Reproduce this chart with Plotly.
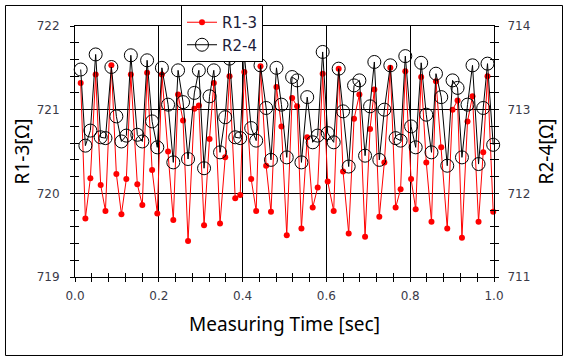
import plotly.graph_objects as go

# time [sec]
t = [0.0136,0.0248,0.0367,0.0493,0.0613,0.0727,0.0868,0.0987,0.1108,0.1225,
     0.1333,0.1487,0.1607,0.1721,0.1840,0.1964,0.2074,0.2222,0.2346,0.2460,
     0.2579,0.2698,0.2849,0.2956,0.3080,0.3211,0.3313,0.3461,0.3585,0.3688,
     0.3824,0.3943,0.4041,0.4205,0.4324,0.4427,0.4562,0.4677,0.4808,0.4927,
     0.5054,0.5182,0.5301,0.5404,0.5542,0.5673,0.5792,0.5911,0.6031,0.6174,
     0.6293,0.6398,0.6532,0.6660,0.6787,0.6923,0.7042,0.7144,0.7263,0.7383,
     0.7526,0.7652,0.7771,0.7883,0.8021,0.8131,0.8262,0.8384,0.8508,0.8615,
     0.8741,0.8884,0.9011,0.9130,0.9235,0.9368,0.9487,0.9631,0.9743,0.9845,
     0.9981]

r13 = [721.32,719.70,720.18,721.42,720.10,719.79,721.53,720.23,719.75,720.17,
       721.42,720.11,719.86,721.44,720.28,719.76,721.42,720.50,719.68,721.18,
       720.87,719.43,721.01,721.05,719.62,720.65,721.32,719.64,720.43,721.40,
       719.94,719.98,721.45,720.17,719.79,721.52,720.33,719.78,721.27,720.80,
       719.50,721.14,721.04,719.58,720.67,719.83,720.07,721.43,720.14,719.79,
       721.49,720.26,719.52,720.89,721.18,719.48,720.77,721.24,719.72,720.37,
       721.50,719.83,720.05,721.46,720.17,719.81,721.39,720.37,719.66,721.34,
       720.55,719.58,721.00,721.11,719.47,720.86,721.16,719.66,720.49,721.40,
       719.78]

r24 = [713.48,712.57,712.75,713.66,712.67,712.66,713.51,712.92,712.62,712.69,
       713.65,712.70,712.62,713.59,712.86,712.55,713.50,713.06,712.37,713.47,
       713.09,712.41,713.20,713.47,712.30,713.16,713.47,712.49,712.91,713.61,
       712.67,712.66,713.66,712.78,712.63,713.53,713.02,712.40,713.50,713.06,
       712.43,713.39,713.35,712.37,713.15,712.61,712.69,713.69,712.72,712.61,
       713.49,712.98,712.32,713.29,713.35,712.45,713.04,713.57,712.40,713.00,
       713.53,712.66,712.63,713.64,712.80,712.55,713.56,712.94,712.49,713.43,
       713.15,712.33,713.35,713.26,712.43,713.06,713.53,712.35,713.02,713.55,
       712.58]

x_ticks = [0.0, 0.2, 0.4, 0.6, 0.8, 1.0]
y1_ticks = [719, 720, 721, 722]
y2_ticks = [711, 712, 713, 714]

TICKFONT = dict(family="DejaVu Sans", size=12, color="#3a3a48")
TITLEFONT = dict(family="Noto Sans", size=19, color="black")

fig = go.Figure()
fig.add_trace(go.Scatter(x=t, y=r13, name="R1-3", mode="lines+markers",
                         line=dict(color="#ff0000", width=1),
                         marker=dict(color="#ff0000", size=6, symbol="circle"),
                         cliponaxis=False))
fig.add_trace(go.Scatter(x=t, y=r24, name="R2-4", mode="lines+markers",
                         yaxis="y2",
                         line=dict(color="black", width=1),
                         marker=dict(color="black", size=13, symbol="circle-open",
                                     line=dict(width=1, color="black")),
                         cliponaxis=False))
# empty traces so the inside-tick overlay axes are drawn
fig.add_trace(go.Scatter(x=[], y=[], xaxis="x2", yaxis="y3", showlegend=False, hoverinfo="skip"))
fig.add_trace(go.Scatter(x=[], y=[], xaxis="x2", yaxis="y4", showlegend=False, hoverinfo="skip"))

common = dict(showline=True, linecolor="black", linewidth=1, zeroline=False,
              tickcolor="black", tickwidth=1, ticklen=4, ticks="outside", automargin=False)

fig.update_layout(
    width=569, height=361,
    margin=dict(l=75, r=75, t=26, b=84, autoexpand=False),
    paper_bgcolor="white", plot_bgcolor="white",
    showlegend=True,
    legend=dict(x=0.253, y=1.0837, xanchor="left", yanchor="top",
                bgcolor="white", bordercolor="black", borderwidth=1,
                font=dict(family="DejaVu Sans", size=15, color="#1c1c3a"),
                tracegroupgap=0, itemwidth=30),
    xaxis=dict(range=[0, 1], tickvals=x_ticks, tickformat=".1f",
               minor=dict(dtick=0.04, ticks="outside", ticklen=4, tickcolor="black", showgrid=False),
               showgrid=True, gridcolor="black", gridwidth=1, mirror=True,
               tickfont=TICKFONT, ticklabelstandoff=4,
               title=dict(text="Measuring Time [sec]", font=TITLEFONT, standoff=15),
               **common),
    xaxis2=dict(range=[0, 1], overlaying="x", anchor="y", ticks="inside", dtick=0.04, tick0=0,
                ticklen=4, tickcolor="black", showticklabels=False, showgrid=False,
                showline=False, zeroline=False),
    yaxis=dict(range=[719, 722], tickvals=y1_ticks,
               minor=dict(dtick=0.2, ticks="outside", ticklen=4, tickcolor="black", showgrid=False),
               showgrid=True, gridcolor="black", gridwidth=1,
               tickfont=TICKFONT, ticklabelstandoff=8,
               title=dict(text="R1-3[Ω]", font=TITLEFONT, standoff=2),
               **common),
    yaxis2=dict(range=[711, 714], tickvals=y2_ticks, overlaying="y", side="right", anchor="x",
                minor=dict(dtick=0.2, ticks="outside", ticklen=4, tickcolor="black", showgrid=False),
                showgrid=False,
                tickfont=TICKFONT, ticklabelstandoff=6,
                title=dict(text="R2-4[Ω]", font=TITLEFONT, standoff=10),
                **common),
    yaxis3=dict(range=[719, 722], overlaying="y", side="left", anchor="x", ticks="inside",
                dtick=0.2, tick0=719, ticklen=4, tickcolor="black", showticklabels=False,
                showgrid=False, showline=False, zeroline=False),
    yaxis4=dict(range=[711, 714], overlaying="y", side="right", anchor="x", ticks="inside",
                dtick=0.2, tick0=711, ticklen=4, tickcolor="black", showticklabels=False,
                showgrid=False, showline=False, zeroline=False),
    shapes=[dict(type="rect", xref="paper", yref="paper",
                 x0=-0.1659, x1=1.1635, y0=-0.3127, y1=1.0817,
                 line=dict(color="black", width=1), fillcolor="rgba(0,0,0,0)", layer="below")],
)

fig.write_html("out.html", config={"displayModeBar": False},
               post_script="document.body.style.margin='0px';document.body.style.padding='0px';")
